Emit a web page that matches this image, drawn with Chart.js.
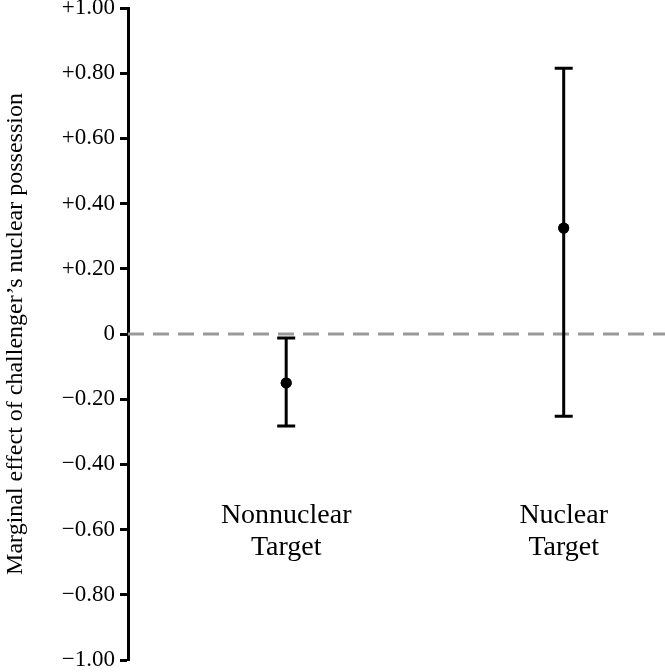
<!DOCTYPE html>
<html><head><meta charset="utf-8">
<script src="https://cdn.jsdelivr.net/npm/chart.js@4.4.1/dist/chart.umd.min.js"></script>
<style>html,body{margin:0;padding:0;background:#fff;overflow:hidden}#wrap{width:665px;height:672px;position:relative}</style>
</head><body><div id="wrap"><canvas id="c"></canvas></div>
<script>
const categoryLines = [["Nonnuclear", "Target"], ["Nuclear", "Target"]];
const positions = [1, 2];
const estimates = [-0.150, 0.325];
const lowerBounds = [-0.282, -0.252];
const upperBounds = [-0.012, 0.815];
const yTickValues = [-1, -0.8, -0.6, -0.4, -0.2, 0, 0.2, 0.4, 0.6, 0.8, 1];
const yTitle = "Marginal effect of challenger\u2019s nuclear possession";

const SERIF = "'Liberation Serif', 'Times New Roman', serif";

function fmtTick(v) {
  if (Math.abs(v) < 1e-9) return "0";
  return (v > 0 ? "+" : "\u2212") + Math.abs(v).toFixed(2);
}

const errorBarPlugin = {
  id: "errorBars",
  afterDatasetsDraw(chart) {
    const xs = chart.scales.x, ys = chart.scales.y, ctx = chart.ctx;
    ctx.save();
    ctx.strokeStyle = "#000";
    ctx.lineWidth = 3;
    ctx.lineCap = "butt";
    positions.forEach((p, i) => {
      const x = xs.getPixelForValue(p);
      const yl = ys.getPixelForValue(lowerBounds[i]);
      const yu = ys.getPixelForValue(upperBounds[i]);
      ctx.beginPath();
      ctx.moveTo(x, yl); ctx.lineTo(x, yu);
      ctx.moveTo(x - 9, yl); ctx.lineTo(x + 9, yl);
      ctx.moveTo(x - 9, yu); ctx.lineTo(x + 9, yu);
      ctx.stroke();
    });
    ctx.fillStyle = "#000";
    positions.forEach((p, i) => {
      const x = xs.getPixelForValue(p);
      const y = ys.getPixelForValue(estimates[i]);
      ctx.beginPath(); ctx.arc(x, y, 5.5, 0, Math.PI * 2); ctx.fill();
    });
    ctx.restore();
  }
};

const categoryLabelPlugin = {
  id: "categoryLabels",
  afterDraw(chart, args, opts) {
    const xs = chart.scales.x, ys = chart.scales.y, ctx = chart.ctx;
    ctx.save();
    ctx.fillStyle = "#000";
    ctx.font = "28px " + SERIF;
    ctx.textAlign = "center";
    ctx.textBaseline = "alphabetic";
    const y0 = ys.getPixelForValue(opts.baselineValue);
    positions.forEach((p, i) => {
      const x = xs.getPixelForValue(p);
      categoryLines[i].forEach((t, j) => ctx.fillText(t, x, y0 + j * opts.lineHeight));
    });
    ctx.restore();
  }
};

new Chart(document.getElementById("c"), {
  type: "scatter",
  data: {
    datasets: [
      {
        type: "line",
        data: [{x: 0.43, y: 0}, {x: 2.365, y: 0}],
        borderColor: "#9a9a9a",
        borderWidth: 3,
        borderDash: [16, 9],
        pointRadius: 0,
        fill: false
      },
      {
        data: positions.map((p, i) => ({x: p, y: estimates[i]})),
        pointRadius: 5.5,
        pointBackgroundColor: "#000",
        pointBorderColor: "#000",
        pointBorderWidth: 0
      }
    ]
  },
  options: {
    responsive: true,
    maintainAspectRatio: false,
    animation: false,
    layout: { padding: 0, autoPadding: false },
    plugins: {
      legend: { display: false },
      tooltip: { enabled: false },
      categoryLabels: { baselineValue: -0.58, lineHeight: 32 }
    },
    scales: {
      x: { type: "linear", min: 0.43, max: 2.365, display: false },
      y: {
        type: "linear", min: -1, max: 1,
        afterBuildTicks(s) { s.ticks = yTickValues.map(v => ({value: v})); },
        afterFit(s) { s.width = 128; s.paddingTop = 8; s.paddingBottom = 12; },
        ticks: {
          callback: v => fmtTick(v),
          color: "#000",
          font: { family: SERIF, size: 23 },
          padding: 5
        },
        grid: {
          display: true, drawOnChartArea: false, drawTicks: true,
          tickLength: 8, tickWidth: 3, tickColor: "#000"
        },
        border: { display: true, width: 3, color: "#000" },
        title: {
          display: true, text: yTitle, color: "#000",
          font: { family: SERIF, size: 24 },
          padding: { top: 1, bottom: 0 }
        }
      }
    }
  },
  plugins: [errorBarPlugin, categoryLabelPlugin]
});
</script>
</body></html>
